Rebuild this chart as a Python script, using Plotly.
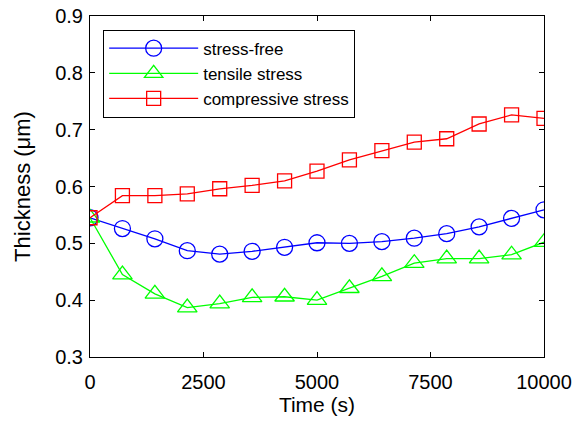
import plotly.graph_objects as go

time_s = [0, 714, 1429, 2143, 2857, 3571, 4286, 5000, 5714, 6429, 7143, 7857, 8571, 9286, 10000]
stress_free = [0.545, 0.526, 0.508, 0.487, 0.481, 0.486, 0.493, 0.501, 0.500, 0.503, 0.509, 0.517, 0.529, 0.544, 0.559]
tensile = [0.545, 0.445, 0.411, 0.387, 0.394, 0.405, 0.406, 0.400, 0.421, 0.442, 0.465, 0.473, 0.473, 0.480, 0.502]
compressive = [0.545, 0.584, 0.584, 0.587, 0.596, 0.602, 0.610, 0.627, 0.647, 0.663, 0.678, 0.684, 0.710, 0.726, 0.720]
x_ticks = [0, 2500, 5000, 7500, 10000]
y_ticks = [0.3, 0.4, 0.5, 0.6, 0.7, 0.8, 0.9]

FONT = "Liberation Sans, Arial, sans-serif"

fig = go.Figure()
series = [
    ("stress-free", stress_free, "#0000FF", "circle-open", 16),
    ("tensile stress", tensile, "#00FF00", "triangle-up-open", 17),
    ("compressive stress", compressive, "#FF0000", "square-open", 14),
]
for name, vals, col, sym, sz in series:
    fig.add_trace(go.Scatter(
        x=time_s, y=vals, name=name, mode="lines+markers",
        line=dict(color=col, width=1.3),
        marker=dict(symbol=sym, size=sz, color=col, line=dict(color=col, width=1.3)),
    ))

axis_common = dict(
    showline=True, linecolor="black", linewidth=1, mirror="ticks",
    ticks="inside", ticklen=5, tickcolor="black", showgrid=False, zeroline=False,
    automargin=False,
    tickfont=dict(family=FONT, size=20, color="black"),
)
fig.update_xaxes(range=[0, 10000], tickvals=x_ticks, ticktext=[str(v) for v in x_ticks],
                 ticklabelstandoff=7,
                 title=dict(text="Time (s)", font=dict(family=FONT, size=21, color="black"), standoff=5),
                 **axis_common)
fig.update_yaxes(range=[0.3, 0.9], tickvals=y_ticks, ticktext=[f"{v:.1f}" for v in y_ticks],
                 ticklabelstandoff=2,
                 title=dict(text="Thickness (μm)", font=dict(family=FONT, size=22, color="black"), standoff=18),
                 **axis_common)
fig.update_layout(
    width=580, height=430,
    margin=dict(l=90, r=36, t=16, b=73),
    plot_bgcolor="white", paper_bgcolor="white",
    legend=dict(x=0.029, y=0.96, xanchor="left", yanchor="top",
                bordercolor="black", borderwidth=1, bgcolor="white",
                font=dict(family=FONT, size=17, color="black"),
                itemwidth=89, tracegroupgap=0),
    showlegend=True,
)
fig.write_html("out.html")
